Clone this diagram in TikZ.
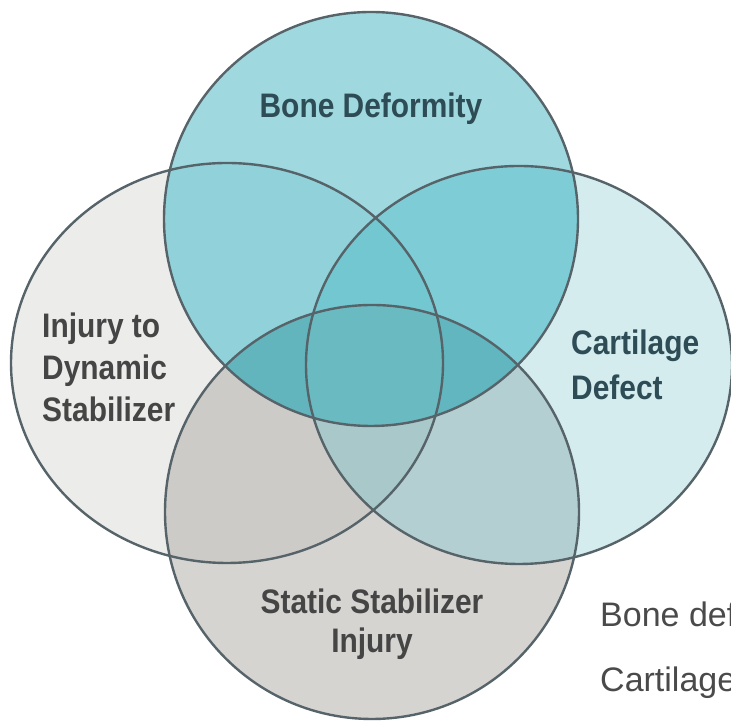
\documentclass[tikz,border=0pt]{standalone}
\usepackage{fontspec}
\setmainfont{Liberation Sans}
\newfontfamily\labelfont[FakeStretch=0.88]{Liberation Sans Bold}
\usetikzlibrary{positioning}
\definecolor{Rim}{HTML}{56646A}
\definecolor{SoloTop}{HTML}{9FD8DE}
\definecolor{SoloRight}{HTML}{D5ECEF}
\definecolor{SoloLeft}{HTML}{ECECEA}
\definecolor{SoloBottom}{HTML}{D6D4D1}
\definecolor{PairTL}{HTML}{91D2DA}
\definecolor{PairTR}{HTML}{7ECDD6}
\definecolor{PairLB}{HTML}{CDCBC8}
\definecolor{PairRB}{HTML}{B4CFD2}
\definecolor{TriTLR}{HTML}{73C7D0}
\definecolor{TriTLB}{HTML}{63B5BD}
\definecolor{TriTRB}{HTML}{61B6BF}
\definecolor{TriLRB}{HTML}{A9C8CA}
\definecolor{Quad}{HTML}{6ABAC1}
\definecolor{TealInk}{HTML}{2E4C56}
\definecolor{GrayInk}{HTML}{454545}
\definecolor{KeyInk}{HTML}{4A4A4A}
\def\ptop{(371,503) circle [radius=207]}
\def\pbot{(372,210) circle [radius=207]}
\def\pleft{(227,359) ellipse [x radius=216,y radius=200]}
\def\pright{(519,357) ellipse [x radius=213,y radius=199]}

\begin{document}
\begin{tikzpicture}[x=1pt,y=1pt,
      rim/.style={draw=Rim,line width=2.4pt},
      setlabel/.style={font=\labelfont\fontsize{34}{42}\selectfont,
                       inner sep=0pt},
      keytext/.style={font=\fontsize{34}{38}\selectfont,text=KeyInk,
                      inner sep=0pt,anchor=base west}]
    \useasboundingbox (0,0) rectangle (731,722);
    % single sets
    \fill[SoloLeft] \pleft;
    \fill[SoloRight] \pright;
    \fill[SoloBottom] \pbot;
    \fill[SoloTop] \ptop;
    % two sets
    \begin{scope}
      \clip \ptop;
      \fill[PairTL] \pleft;
      \fill[PairTR] \pright;
    \end{scope}
    \begin{scope}
      \clip \pbot;
      \fill[PairLB] \pleft;
      \fill[PairRB] \pright;
    \end{scope}
    % three sets
    \begin{scope}
      \clip \ptop; \clip \pleft;
      \fill[TriTLR] \pright;
      \fill[TriTLB] \pbot;
    \end{scope}
    \begin{scope}
      \clip \ptop; \clip \pright;
      \fill[TriTRB] \pbot;
    \end{scope}
    \begin{scope}
      \clip \pleft; \clip \pright;
      \fill[TriLRB] \pbot;
    \end{scope}
    % all four
    \begin{scope}
      \clip \ptop; \clip \pleft; \clip \pright;
      \fill[Quad] \pbot;
    \end{scope}
    \draw[rim] \pleft;
    \draw[rim] \pright;
    \draw[rim] \pbot;
    \draw[rim] \ptop;
    % labels (base = last line)
    \node[setlabel,text=TealInk,anchor=base] (bone) at (371,604) {Bone Deformity};
    \node[setlabel,text=GrayInk,anchor=base west,align=left] (dyn) at (42,300)
      {Injury to\\Dynamic\\Stabilizer};
    \node[setlabel,text=TealInk,anchor=base west,align=left,
          font=\labelfont\fontsize{34}{45}\selectfont] (cart) at (571,322)
      {Cartilage\\Defect};
    \node[setlabel,text=GrayInk,anchor=base,align=center,
          font=\labelfont\fontsize{34}{39}\selectfont] (stat) at (372,69)
      {Static Stabilizer\\Injury};
    \node[keytext] (keybone) at (600,95) {Bone def};
    \node[keytext] (keycart) at (600,30) {Cartilage};
  \end{tikzpicture}
\end{document}
